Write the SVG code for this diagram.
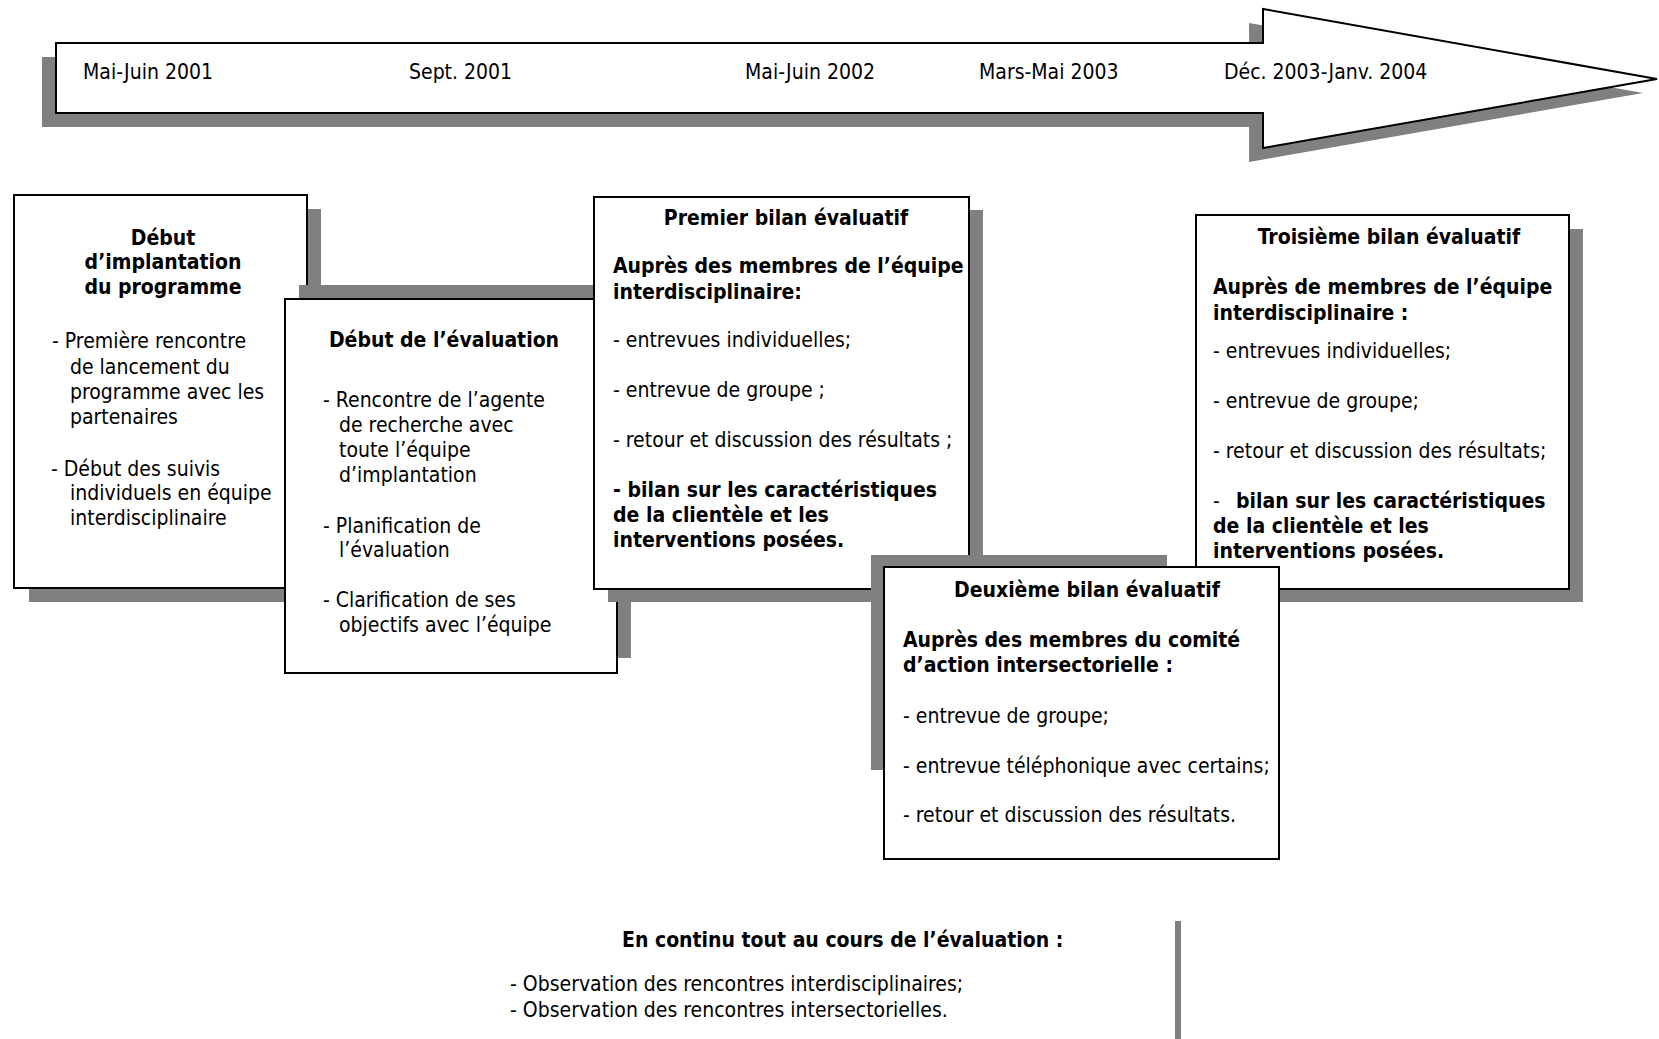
<svg xmlns="http://www.w3.org/2000/svg" width="1659" height="1039" viewBox="0 0 1659 1039">
<style>
.t{font-family:"DejaVu Sans Condensed","DejaVu Sans",sans-serif;font-stretch:condensed;font-size:21px;fill:#000}
.b{font-weight:bold}
.c{text-anchor:middle}
.box{fill:#fff;stroke:#000;stroke-width:2}
.sh{fill:#808080}
</style>
<rect width="1659" height="1039" fill="#fff"/>
<g id="timeline">
<polygon class="sh" transform="translate(-14,14)" points="56,43 1263,43 1263,9 1657,79 1263,148 1263,113 56,113"/>
<polygon class="box" points="56,43 1263,43 1263,9 1657,79 1263,148 1263,113 56,113"/>
<text class="t" x="83" y="79">Mai-Juin 2001</text>
<text class="t" x="409" y="79">Sept. 2001</text>
<text class="t" x="745" y="79">Mai-Juin 2002</text>
<text class="t" x="979" y="79">Mars-Mai 2003</text>
<text class="t" x="1224" y="79">Déc. 2003-Janv. 2004</text>
</g>
<g id="debut-implantation">
<rect class="sh" x="29" y="209" width="292" height="393"/>
<rect class="box" x="14" y="195" width="293" height="393"/>
<text class="t b c" x="163" y="245">Début</text>
<text class="t b c" x="163" y="269">d’implantation</text>
<text class="t b c" x="163" y="294">du programme</text>
<text class="t" x="52" y="348">- Première rencontre</text>
<text class="t" x="70" y="374">de lancement du</text>
<text class="t" x="70" y="399">programme avec les</text>
<text class="t" x="70" y="424">partenaires</text>
<text class="t" x="51" y="476">- Début des suivis</text>
<text class="t" x="70" y="500">individuels en équipe</text>
<text class="t" x="70" y="525">interdisciplinaire</text>
</g>
<g id="debut-evaluation">
<rect class="sh" x="299" y="285" width="332" height="373"/>
<rect class="box" x="285" y="299" width="332" height="374"/>
<text class="t b c" x="444" y="347">Début de l’évaluation</text>
<text class="t" x="323" y="407">- Rencontre de l’agente</text>
<text class="t" x="339" y="432">de recherche avec</text>
<text class="t" x="339" y="457">toute l’équipe</text>
<text class="t" x="339" y="482">d’implantation</text>
<text class="t" x="323" y="533">- Planification de</text>
<text class="t" x="339" y="557">l’évaluation</text>
<text class="t" x="323" y="607">- Clarification de ses</text>
<text class="t" x="339" y="632">objectifs avec l’équipe</text>
</g>
<g id="premier-bilan">
<rect class="sh" x="608" y="210" width="375" height="392"/>
<rect class="box" x="594" y="197" width="375" height="392"/>
<text class="t b c" x="786" y="225">Premier bilan évaluatif</text>
<text class="t b" x="613" y="273">Auprès des membres de l’équipe</text>
<text class="t b" x="613" y="299">interdisciplinaire:</text>
<text class="t" x="613" y="347">- entrevues individuelles;</text>
<text class="t" x="613" y="397">- entrevue de groupe ;</text>
<text class="t" x="613" y="447">- retour et discussion des résultats ;</text>
<text class="t b" x="613" y="497">- bilan sur les caractéristiques</text>
<text class="t b" x="613" y="522">de la clientèle et les</text>
<text class="t b" x="613" y="547">interventions posées.</text>
</g>
<g id="troisieme-bilan">
<rect class="sh" x="1210" y="229" width="373" height="373"/>
<rect class="box" x="1196" y="215" width="373" height="374"/>
<text class="t b c" x="1389" y="244">Troisième bilan évaluatif</text>
<text class="t b" x="1213" y="294">Auprès de membres de l’équipe</text>
<text class="t b" x="1213" y="320">interdisciplinaire :</text>
<text class="t" x="1213" y="358">- entrevues individuelles;</text>
<text class="t" x="1213" y="408">- entrevue de groupe;</text>
<text class="t" x="1213" y="458">- retour et discussion des résultats;</text>
<text class="t" x="1213" y="508">-<tspan class="b" x="1236">bilan sur les caractéristiques</tspan></text>
<text class="t b" x="1213" y="533">de la clientèle et les</text>
<text class="t b" x="1213" y="558">interventions posées.</text>
</g>
<g id="deuxieme-bilan">
<rect class="sh" x="871" y="555" width="296" height="215"/>
<rect class="box" x="884" y="567" width="395" height="292"/>
<text class="t b c" x="1087" y="597">Deuxième bilan évaluatif</text>
<text class="t b" x="903" y="647">Auprès des membres du comité</text>
<text class="t b" x="903" y="672">d’action intersectorielle :</text>
<text class="t" x="903" y="723">- entrevue de groupe;</text>
<text class="t" x="903" y="773">- entrevue téléphonique avec certains;</text>
<text class="t" x="903" y="822">- retour et discussion des résultats.</text>
</g>
<g id="en-continu">
<text class="t b" x="622" y="947">En continu tout au cours de l’évaluation :</text>
<text class="t" x="510" y="991">- Observation des rencontres interdisciplinaires;</text>
<text class="t" x="510" y="1017">- Observation des rencontres intersectorielles.</text>
</g>
<g id="connectors">
<rect class="sh" x="1175" y="921" width="6" height="118"/>
</g>
</svg>
